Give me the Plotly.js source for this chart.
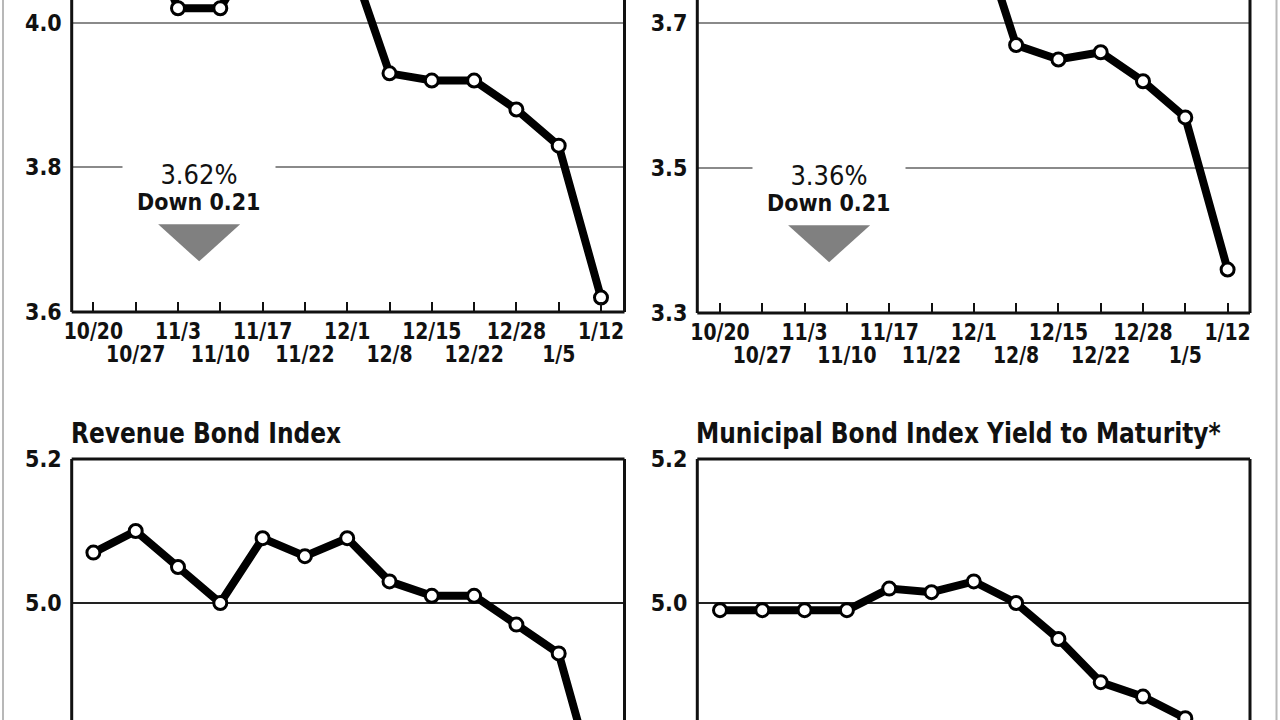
<!DOCTYPE html>
<html><head><meta charset="utf-8">
<script src="https://cdn.plot.ly/plotly-3.0.1.min.js"></script>
<style>html,body{margin:0;padding:0;background:#fff}</style>
</head><body><div id="chart" style="width:1280px;height:720px"></div>
<script>
// ---- data ----
const dates = ['10/20','10/27','11/3','11/10','11/17','11/22','12/1','12/8','12/15','12/22','12/28','1/5','1/12'];
const bond20 = [4.13, 4.16, 4.02, 4.02, 4.12, 4.09, 4.10, 3.93, 3.92, 3.92, 3.88, 3.83, 3.62];
const bond11 = [3.87, 3.90, 3.76, 3.76, 3.86, 3.83, 3.85, 3.67, 3.65, 3.66, 3.62, 3.57, 3.36];
const revenue = [5.07, 5.10, 5.05, 5.00, 5.09, 5.065, 5.09, 5.03, 5.01, 5.01, 4.97, 4.93, 4.72];
const muniYTM = [4.99, 4.99, 4.99, 4.99, 5.02, 5.015, 5.03, 5.00, 4.95, 4.89, 4.87, 4.84, 4.62];
const panelTitles = ['', '', 'Revenue Bond Index', 'Municipal Bond Index Yield to Maturity*'];
const yTickValues = [[3.6, 3.8, 4.0, 4.2], [3.3, 3.5, 3.7, 3.9], [4.8, 5.0, 5.2], [4.8, 5.0, 5.2]];
const calloutValue = ['3.62%', '3.36%'];
const calloutChange = ['Down 0.21', 'Down 0.21'];
const calloutLevel = [3.8, 3.5];
const calloutX = [2.5, 2.58];
const series = [bond20, bond11, revenue, muniYTM];

// ---- layout geometry (pixels) ----
const W = 1280, H = 720;
const FONT = '"DejaVu Sans Condensed", "DejaVu Sans", sans-serif';
const panels = [
  {L: 71.7, R: 624.5, T: 0, B: 312, first: 93.4, last: 601, refA: [4.0, 22.7], refB: [3.6, 312], gridColor: '#8a8a8a', gridW: 2, top: false},
  {L: 697.3, R: 1250, T: 0, B: 313, first: 720, last: 1227.6, refA: [3.7, 23.3], refB: [3.3, 313], gridColor: '#8a8a8a', gridW: 2, top: false},
  {L: 71.7, R: 624.5, T: 459, B: 720, first: 93.4, last: 601, refA: [5.2, 459], refB: [5.0, 603], gridColor: '#222', gridW: 1.5, top: true},
  {L: 697.3, R: 1250, T: 459, B: 720, first: 720, last: 1227.6, refA: [5.2, 459], refB: [5.0, 603], gridColor: '#222', gridW: 1.5, top: true}
];

const idx = dates.map((d, i) => i);
const evenText = dates.map((d, i) => i % 2 === 0 ? d : '');
const oddVals = idx.filter(i => i % 2 === 1);
const oddText = oddVals.map(i => dates[i]);

const layout = {
  width: W, height: H, margin: {l: 0, r: 0, t: 0, b: 0},
  paper_bgcolor: '#fff', plot_bgcolor: 'rgba(0,0,0,0)', showlegend: false,
  font: {family: FONT, color: '#111'},
  shapes: [], annotations: []
};
const traces = [];
const xTickFont = {family: FONT, size: 23, color: '#111', weight: 'bold'};
const yTickFont = {family: FONT, size: 23, color: '#111', weight: 'bold'};

panels.forEach((p, k) => {
  const n = k + 1, o = k + 5;
  const step = (p.last - p.first) / (dates.length - 1);
  const xr = [-(p.first - p.L) / step, (dates.length - 1) + (p.R - p.last) / step];
  const vpp = (p.refA[0] - p.refB[0]) / (p.refB[1] - p.refA[1]);
  const yr = [p.refB[0] - (p.B - p.refB[1]) * vpp, p.refA[0] + (p.refA[1] - p.T) * vpp];
  const xd = [p.L / W, p.R / W];
  const yd = [1 - p.B / H, 1 - p.T / H];
  const showX = !p.top;

  layout['xaxis' + n] = {
    domain: xd, range: xr, anchor: 'y' + n, fixedrange: true,
    tickmode: 'array', tickvals: idx, ticktext: evenText,
    ticks: showX ? 'inside' : '', ticklen: 10, tickwidth: 2, tickcolor: '#111',
    showticklabels: showX,
    showgrid: false, zeroline: false, showline: false,
    tickfont: xTickFont, ticklabelstandoff: 3
  };
  layout['xaxis' + o] = {
    overlaying: 'x' + n, anchor: 'y' + n, range: xr, fixedrange: true, domain: xd,
    tickmode: 'array', tickvals: oddVals, ticktext: oddText,
    ticks: '', showgrid: false, zeroline: false, showline: false,
    showticklabels: showX,
    tickfont: xTickFont, ticklabelstandoff: 26
  };
  layout['yaxis' + n] = {
    domain: yd, range: yr, anchor: 'x' + n, fixedrange: true,
    tickmode: 'array', tickvals: yTickValues[k], tickformat: '.1f',
    ticks: '', showgrid: true, gridcolor: p.gridColor, gridwidth: p.gridW,
    zeroline: false, showline: false, ticklabelstandoff: 9,
    tickfont: yTickFont
  };

  // invisible companion trace so the odd-date overlay axis is drawn
  traces.push({
    type: 'scatter', mode: 'markers', x: idx, y: series[k],
    xaxis: 'x' + o, yaxis: 'y' + n, hoverinfo: 'skip',
    marker: {opacity: 0, size: 1}
  });
  traces.push({
    type: 'scatter', mode: 'lines+markers', x: idx, y: series[k],
    xaxis: 'x' + n, yaxis: 'y' + n, cliponaxis: true, hoverinfo: 'skip',
    line: {color: '#000', width: 8},
    marker: {size: 13, color: '#fff', line: {color: '#000', width: 3}}
  });

  // frame
  const xref = 'x' + n + ' domain', yref = 'y' + n + ' domain';
  const fl = {color: '#111', width: 3};
  layout.shapes.push({type: 'line', xref, yref, x0: 0, x1: 0, y0: 0, y1: 1, line: fl});
  layout.shapes.push({type: 'line', xref, yref, x0: 1, x1: 1, y0: 0, y1: 1, line: fl});
  if (p.top) layout.shapes.push({type: 'line', xref, yref, x0: 0, x1: 1, y0: 1, y1: 1, line: fl});
  else layout.shapes.push({type: 'line', xref, yref, x0: 0, x1: 1, y0: 0, y1: 0, line: fl});

  if (panelTitles[k]) {
    layout.annotations.push({
      xref: 'paper', yref: 'paper', x: (p.L - 3) / W, y: 1 - (p.T - 7) / H,
      xanchor: 'left', yanchor: 'bottom', align: 'left', showarrow: false,
      text: panelTitles[k],
      font: {family: FONT, size: 28.5, color: '#111', weight: 'bold'}
    });
  }
  if (k < 2) {
    layout.annotations.push({
      xref: 'x' + n, yref: 'y' + n, x: calloutX[k], y: calloutLevel[k],
      xanchor: 'center', yanchor: 'middle', yshift: -7, showarrow: false,
      width: 152, bgcolor: '#fff', borderpad: 0,
      text: calloutValue[k],
      font: {family: FONT, size: 27, color: '#111'}
    });
    layout.annotations.push({
      xref: 'x' + n, yref: 'y' + n, x: calloutX[k], y: calloutLevel[k],
      xanchor: 'center', yanchor: 'middle', yshift: -35, showarrow: false,
      text: calloutChange[k],
      font: {family: FONT, size: 23, color: '#111', weight: 'bold'}
    });
    layout.shapes.push({
      type: 'path', xref: 'x' + n, yref: 'y' + n,
      xsizemode: 'pixel', ysizemode: 'pixel',
      xanchor: calloutX[k], yanchor: calloutLevel[k],
      path: 'M-41,-57 L41,-57 L0,-94 Z',
      fillcolor: '#808080', line: {width: 0}
    });
  }
});

// outer border of the graphic
layout.shapes.push({type: 'line', xref: 'paper', yref: 'paper', x0: 3 / W, x1: 3 / W, y0: 0, y1: 1, line: {color: '#b8b8b8', width: 2}});
layout.shapes.push({type: 'line', xref: 'paper', yref: 'paper', x0: 1276.5 / W, x1: 1276.5 / W, y0: 0, y1: 1, line: {color: '#b8b8b8', width: 2}});

// narrow the condensed typeface further, as in the printed original
function squeezeEl(t, factor) {
  const len = t.getComputedTextLength();
  if (len > 0) {
    t.setAttribute('textLength', (len * factor).toFixed(1));
    t.setAttribute('lengthAdjust', 'spacingAndGlyphs');
  }
}
Plotly.newPlot('chart', traces, layout, {staticPlot: true, displayModeBar: false}).then(() => {
  document.querySelectorAll('#chart g[class^="x"][class$="tick"] text').forEach(t => squeezeEl(t, 0.91));
  document.querySelectorAll('#chart .annotation-text').forEach(t => {
    if (panelTitles.indexOf(t.textContent) >= 2) squeezeEl(t, 0.91);
  });
});
</script>
</body></html>
